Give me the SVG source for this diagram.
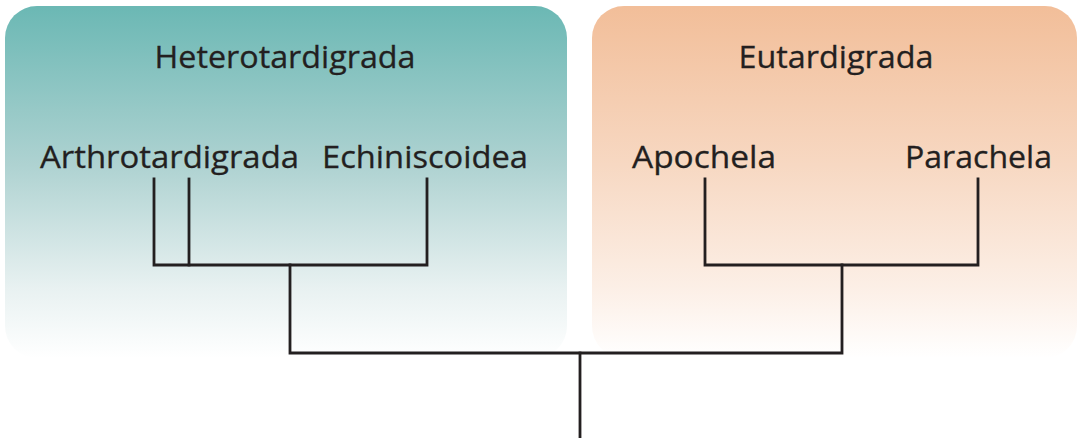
<svg xmlns="http://www.w3.org/2000/svg" width="1077" height="438" viewBox="0 0 1077 438">
  <style>
    .title { font-family: "Open Sans", "Liberation Sans", sans-serif; font-size: 31px; fill: #231f20; stroke: #231f20; stroke-width: 0.3; }
    .taxon { font-family: "Open Sans", "Liberation Sans", sans-serif; font-size: 31px; fill: #231f20; stroke: #231f20; stroke-width: 0.3; }
    .branch { fill: none; stroke: #231f20; stroke-width: 2.8; stroke-linecap: square; stroke-linejoin: miter; }
  </style>
  <defs>
    <linearGradient id="tealFade" x1="0" y1="0" x2="0" y2="1">
      <stop offset="0" stop-color="#6bb8b4"/>
      <stop offset="0.45" stop-color="#aed2d1"/>
      <stop offset="0.8" stop-color="#e8f1f1"/>
      <stop offset="1" stop-color="#ffffff"/>
    </linearGradient>
    <linearGradient id="peachFade" x1="0" y1="0" x2="0" y2="1">
      <stop offset="0" stop-color="#f2be99"/>
      <stop offset="0.45" stop-color="#f7d8c2"/>
      <stop offset="0.8" stop-color="#fcefe6"/>
      <stop offset="1" stop-color="#ffffff"/>
    </linearGradient>
  </defs>

  <rect width="1077" height="438" fill="#ffffff"/>

  <!-- Heterotardigrada clade panel -->
  <g id="heterotardigrada">
    <rect x="5" y="6" width="562" height="352" rx="32" ry="32" fill="url(#tealFade)"/>
    <text class="title" x="285" y="68" text-anchor="middle" textLength="261" lengthAdjust="spacingAndGlyphs">Heterotardigrada</text>
  </g>

  <!-- Eutardigrada clade panel -->
  <g id="eutardigrada">
    <rect x="592" y="6" width="485" height="352" rx="32" ry="32" fill="url(#peachFade)"/>
    <text class="title" x="836" y="68" text-anchor="middle" textLength="195" lengthAdjust="spacingAndGlyphs">Eutardigrada</text>
  </g>

  <g id="arthrotardigrada">
    <text class="taxon" x="40" y="168" textLength="259" lengthAdjust="spacingAndGlyphs">Arthrotardigrada</text>
  </g>
  <g id="echiniscoidea">
    <text class="taxon" x="322" y="168" textLength="206" lengthAdjust="spacingAndGlyphs">Echiniscoidea</text>
  </g>
  <g id="apochela">
    <text class="taxon" x="632" y="168" textLength="144" lengthAdjust="spacingAndGlyphs">Apochela</text>
  </g>
  <g id="parachela">
    <text class="taxon" x="905" y="168" textLength="147" lengthAdjust="spacingAndGlyphs">Parachela</text>
  </g>

  <!-- Tree branches -->
  <g id="connectors">
    <polyline class="branch" points="154,179 154,265 427,265 427,179"/>
    <line class="branch" x1="189" y1="179" x2="189" y2="265"/>
    <polyline class="branch" points="705,179 705,265 978,265 978,179"/>
    <polyline class="branch" points="290,265 290,353 842,353 842,265"/>
    <line class="branch" x1="580" y1="353" x2="580" y2="440"/>
  </g>
</svg>
